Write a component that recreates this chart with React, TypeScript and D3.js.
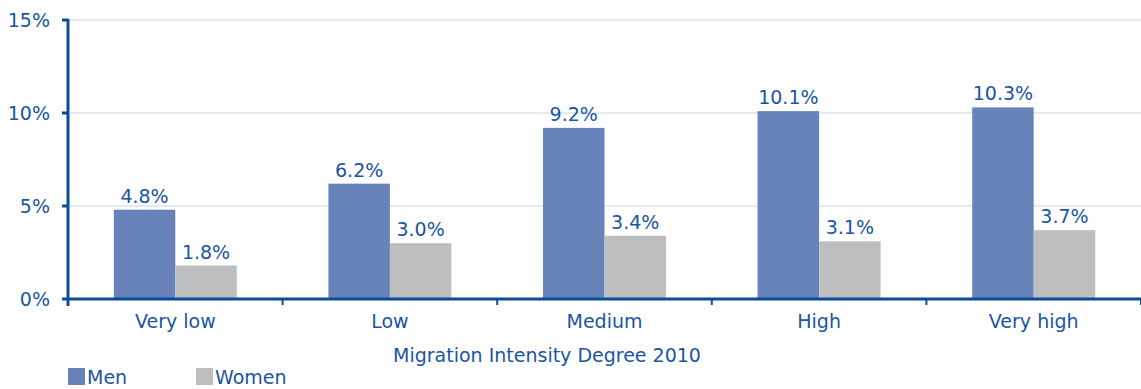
import React from 'react';
import * as d3 from 'd3';

const categories = ['Very low', 'Low', 'Medium', 'High', 'Very high'];
const series = ['Men', 'Women'];
const men = [4.8, 6.2, 9.2, 10.1, 10.3];
const women = [1.8, 3.0, 3.4, 3.1, 3.7];
const yTicks = [0, 5, 10, 15];
const xTitle = 'Migration Intensity Degree 2010';

const W = 1141;
const H = 389;
const FONT = '"DejaVu Sans", Verdana, sans-serif';
const AXIS = '#0b4d98';
const TEXT = '#1a55a4';
const GRID = '#c6d3ec';
const COLORS: Record<string, string> = { Men: '#6783ba', Women: '#bdbebf' };

export default function App() {
  const left = 68;
  const right = 1141;
  const top = 20;
  const bottom = 299;

  const y = d3.scaleLinear().domain([0, 15]).range([bottom, top]);
  const x0 = d3.scaleBand<string>().domain(categories).range([left, right]).padding(0);
  const x1 = d3
    .scaleBand<string>()
    .domain(series)
    .range([0, x0.bandwidth()])
    .paddingInner(0)
    .paddingOuter(0.745);

  const rows = categories.map((c, i) => ({ cat: c, Men: men[i], Women: women[i] }));
  const boundaries = [...categories.map((c) => x0(c) as number), right];

  return (
    <svg
      width={W}
      height={H}
      style={{ position: 'absolute', left: 0, top: 0, background: '#fff' }}
      fontFamily={FONT}
    >
      {/* grid */}
      {yTicks
        .filter((t) => t > 0)
        .map((t) => (
          <line key={'g' + t} x1={left + 2} x2={right} y1={y(t)} y2={y(t)} stroke={GRID} strokeWidth={1} />
        ))}

      {/* bars */}
      {rows.map((r) => (
        <g key={r.cat} transform={`translate(${x0(r.cat)},0)`}>
          {series.map((s) => {
            const v = (r as any)[s] as number;
            const bx = x1(s) as number;
            return (
              <g key={s}>
                <rect x={bx} y={y(v)} width={x1.bandwidth()} height={bottom - y(v)} fill={COLORS[s]} />
                <text
                  x={bx + x1.bandwidth() / 2}
                  y={y(v) - 7}
                  textAnchor="middle"
                  fontSize={19}
                  fill={TEXT}
                >
                  {v.toFixed(1) + '%'}
                </text>
              </g>
            );
          })}
        </g>
      ))}

      {/* y axis */}
      <line x1={left} x2={left} y1={top - 1} y2={bottom + 7} stroke={AXIS} strokeWidth={3} />
      {yTicks.map((t) => (
        <g key={'y' + t}>
          <line x1={left - 6} x2={left} y1={y(t)} y2={y(t)} stroke={AXIS} strokeWidth={3} />
          <text x={50} y={y(t) + 7} textAnchor="end" fontSize={19} fill={TEXT}>
            {t + '%'}
          </text>
        </g>
      ))}

      {/* x axis */}
      <line x1={left} x2={right} y1={bottom} y2={bottom} stroke={AXIS} strokeWidth={3} />
      {boundaries.map((b, i) => (
        <line key={'xt' + i} x1={b} x2={b} y1={bottom} y2={bottom + 6} stroke={AXIS} strokeWidth={2} />
      ))}
      {categories.map((c) => (
        <text
          key={'xl' + c}
          x={(x0(c) as number) + x0.bandwidth() / 2}
          y={328}
          textAnchor="middle"
          fontSize={19}
          fill={TEXT}
        >
          {c}
        </text>
      ))}
      <text x={547} y={362} textAnchor="middle" fontSize={19} fill={TEXT}>
        {xTitle}
      </text>

      {/* legend */}
      {series.map((s, i) => (
        <g key={'lg' + s} transform={`translate(${68 + i * 128},368)`}>
          <rect x={0} y={0} width={17} height={17} fill={COLORS[s]} />
          <text x={19} y={16} fontSize={19} fill={TEXT}>
            {s}
          </text>
        </g>
      ))}
    </svg>
  );
}
